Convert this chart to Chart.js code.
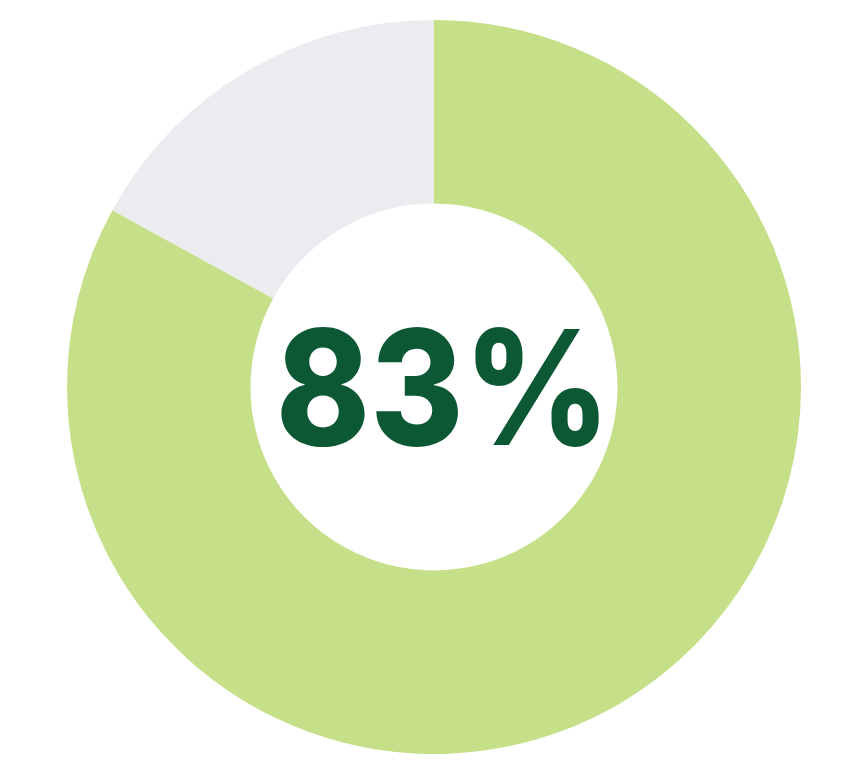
<!DOCTYPE html>
<html>
<head>
<meta charset="utf-8">
<script src="https://cdn.jsdelivr.net/npm/chart.js@4"></script>
<style>
  html, body { margin: 0; padding: 0; background: #ffffff; width: 846px; height: 781px; overflow: hidden; }
  #wrap { position: absolute; left: 67px; top: 20px; width: 734px; height: 734px; }
</style>
</head>
<body>
<div id="wrap"><canvas id="c"></canvas></div>
<script>
const labels = ["Yes", "No"];
const values = [83, 17];
const centerLabel = "83%";
const colors = ["#c6df89", "#ecebef"];

const centerText = {
  id: "centerText",
  afterDraw(chart) {
    const ctx = chart.ctx;
    const meta = chart.getDatasetMeta(0).data[0];
    ctx.save();
    ctx.translate(meta.x + 9, meta.y + 58);
    ctx.scale(0.89, 1);
    ctx.fillStyle = "#0c5834";
    ctx.font = "800 160px Inter";
    ctx.textAlign = "center";
    ctx.textBaseline = "alphabetic";
    ctx.fillText(centerLabel, 0, 0);
    ctx.restore();
  }
};

new Chart(document.getElementById("c"), {
  type: "doughnut",
  data: {
    labels: labels,
    datasets: [{
      data: values,
      backgroundColor: colors,
      borderWidth: 0
    }]
  },
  options: {
    responsive: true,
    maintainAspectRatio: false,
    animation: false,
    cutout: "50%",
    layout: { padding: 0 },
    plugins: { legend: { display: false }, tooltip: { enabled: false } }
  },
  plugins: [centerText]
});
</script>
</body>
</html>
